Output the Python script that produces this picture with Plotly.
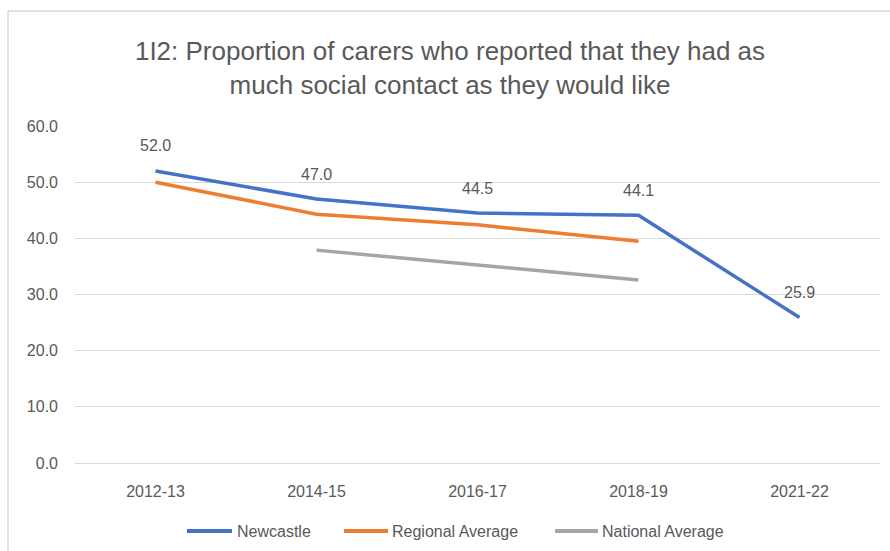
import plotly.graph_objects as go

# Reporting years
years = ["2012-13", "2014-15", "2016-17", "2018-19", "2021-22"]

# Percentage of carers with as much social contact as they would like
newcastle = [52.0, 47.0, 44.5, 44.1, 25.9]
regional = [50.0, 44.3, 42.4, 39.5, None]
national = [None, 37.9, 35.2, 32.6, None]

y_ticks = [0, 10, 20, 30, 40, 50, 60]
y_tick_text = [f"{v:.1f}" for v in y_ticks]

TEXT = "#595959"
FONT = "Liberation Sans, Arial, sans-serif"

fig = go.Figure()
series = [
    ("Newcastle", newcastle, "#4472C4"),
    ("Regional Average", regional, "#ED7D31"),
    ("National Average", national, "#A5A5A5"),
]
for name, vals, col in series:
    fig.add_trace(go.Scatter(
        x=years, y=vals, name=name, mode="lines",
        line=dict(color=col, width=3.5),
        connectgaps=False, showlegend=False,
    ))

# Value labels above the Newcastle line
for yr, v in zip(years, newcastle):
    fig.add_annotation(
        x=yr, y=v, text=f"{v:.1f}", showarrow=False,
        yshift=25, font=dict(family=FONT, size=16, color=TEXT),
    )

# Plot-area geometry in pixels
L, R, T, B = 75, 10, 126, 88
pw, ph = 890 - L - R, 551 - T - B


def px_x(p):
    return (p - L) / pw


def px_y(p):
    return (551 - B - p) / ph


# Chart-area border
fig.add_shape(
    type="rect", xref="paper", yref="paper",
    x0=px_x(8), x1=1.2, y0=-0.5, y1=px_y(11),
    line=dict(color="#D9D9D9", width=1.5), fillcolor="rgba(0,0,0,0)",
    layer="below",
)

# Legend row below the axis
legend_y = 531
legend_items = [(187, 232, 235), (344, 388, 390), (555, 598, 600)]
for (name, _, col), (lx0, lx1, tx) in zip(series, legend_items):
    fig.add_shape(
        type="line", xref="paper", yref="paper",
        x0=px_x(lx0), x1=px_x(lx1), y0=px_y(legend_y), y1=px_y(legend_y),
        line=dict(color=col, width=4),
    )
    fig.add_annotation(
        xref="paper", yref="paper", x=px_x(tx), y=px_y(legend_y),
        xanchor="left", yanchor="middle", text=name, showarrow=False,
        font=dict(family=FONT, size=16, color=TEXT),
    )

fig.update_layout(
    width=890, height=551,
    margin=dict(l=L, r=R, t=T, b=B, autoexpand=False),
    paper_bgcolor="white", plot_bgcolor="white",
    font=dict(family=FONT, color=TEXT, size=16),
    title=dict(
        text="1I2: Proportion of carers who reported that they had as<br>much social contact as they would like",
        x=px_x(450), xref="paper", xanchor="center",
        y=1 - 60 / 551, yanchor="middle",
        font=dict(family=FONT, size=26, color=TEXT),
    ),
    showlegend=False,
    xaxis=dict(
        type="category", range=[-0.5, 4.5],
        showgrid=False, showline=False, zeroline=False,
        ticks="", tickfont=dict(family=FONT, size=16, color=TEXT),
        ticklabelstandoff=17,
    ),
    yaxis=dict(
        range=[0, 60], tickvals=y_ticks, ticktext=y_tick_text,
        showgrid=True, gridcolor="#D9D9D9", gridwidth=1.3,
        zeroline=True, zerolinecolor="#D9D9D9", zerolinewidth=1.3,
        showline=False, ticks="",
        tickfont=dict(family=FONT, size=16, color=TEXT),
        ticklabelstandoff=16,
    ),
)

fig.write_html("out.html")
